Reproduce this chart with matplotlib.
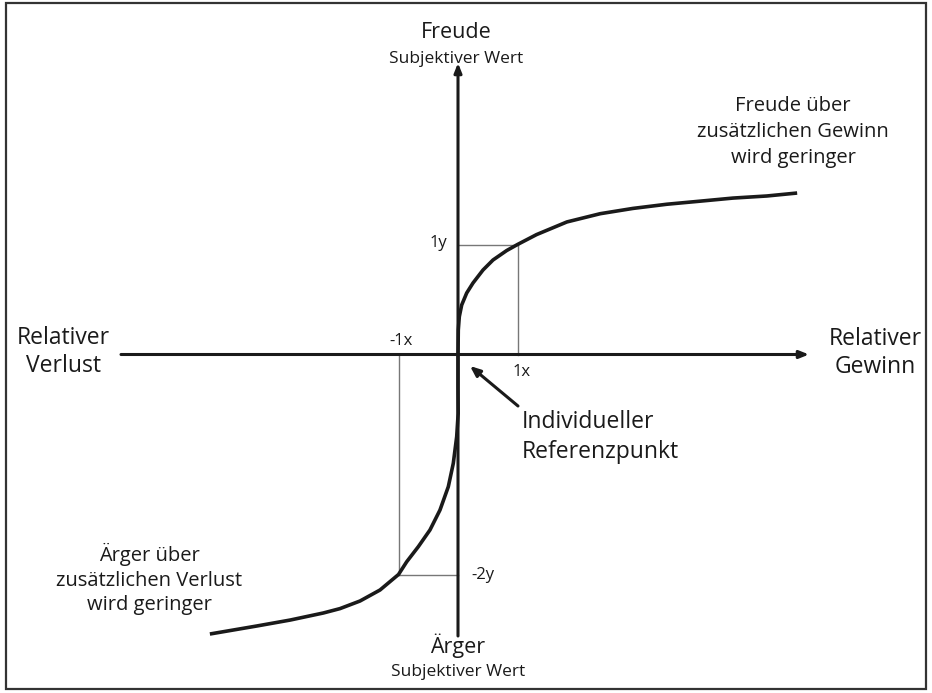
import matplotlib.pyplot as plt
from matplotlib.patches import Rectangle

# value function points (x in "x" units, y in "y" units)
gain_x = [0.0, 0.005, 0.022, 0.062, 0.146, 0.252, 0.42, 0.588, 0.818, 1.0,
          1.32, 1.83, 2.39, 2.94, 3.51, 4.07, 4.62, 5.19, 5.70]
gain_y = [0.0, 0.223, 0.344, 0.45, 0.559, 0.65, 0.768, 0.859, 0.945, 1.0,
          1.09, 1.205, 1.28, 1.328, 1.366, 1.394, 1.422, 1.441, 1.468]
loss_x = [0.0, 0.0, 0.003, -0.022, -0.079, -0.163, -0.303, -0.471, -0.667, -0.862, -1.0,
          -1.311, -1.647, -1.983, -2.264, -2.82, -3.38, -4.17]
loss_y = [0.0, -0.3, -0.535, -0.747, -0.989, -1.202, -1.414, -1.595, -1.747, -1.884, -2.0,
          -2.141, -2.241, -2.31, -2.35, -2.414, -2.468, -2.541]

ref_x = [1, -1]
ref_y = [1, -2]
ref_xlabels = ['1x', '-1x']
ref_ylabels = ['1y', '-2y']

# picture geometry
W, H = 932, 693
X0, Y0 = 458, 354.5
SX, SY = 59.5, 110.0


def px(x, y):
    # pixel position -> data units
    return (x - X0) / SX, (Y0 - y) / SY


plt.rcParams['font.family'] = ['Open Sans', 'DejaVu Sans']
ink = '#1a1a1a'

fig = plt.figure(figsize=(W / 100, H / 100), dpi=100)
ax = fig.add_axes([0, 0, 1, 1])
ax.set_xlim(px(0, 0)[0], px(W, 0)[0])
ax.set_ylim(px(0, H)[1], px(0, 0)[1])
ax.axis('off')

# frame
fig.patches.append(Rectangle((6 / W, 4 / H), 920 / W, 686 / H, transform=fig.transFigure,
                             fill=False, edgecolor='#333333', lw=1.6))

# axes with arrows
head = '-|>,head_length=0.55,head_width=0.22'
ax.annotate('', xy=(px(809, 0)[0], 0), xytext=(px(121, 0)[0], 0),
            arrowprops=dict(arrowstyle=head, lw=2.2, color=ink, shrinkA=0, shrinkB=0))
ax.annotate('', xy=(0, px(0, 63)[1]), xytext=(0, px(0, 636)[1]),
            arrowprops=dict(arrowstyle=head, lw=2.2, color=ink, shrinkA=0, shrinkB=0))

# guide lines to reference points
for rx, ry in zip(ref_x, ref_y):
    ax.plot([rx, rx], [0, ry], color='#777777', lw=1.0)
    ax.plot([0, rx], [ry, ry], color='#777777', lw=1.0)

# value function
ax.plot(gain_x, gain_y, color=ink, lw=2.6, solid_capstyle='butt', solid_joinstyle='round')
ax.plot(loss_x, loss_y, color=ink, lw=2.6, solid_capstyle='butt', solid_joinstyle='round')

# reference labels
tick_fs = 12
ax.text(*px(522, 372), ref_xlabels[0], fontsize=tick_fs, color=ink, ha='center', va='center')
ax.text(*px(401, 341), ref_xlabels[1], fontsize=tick_fs, color=ink, ha='center', va='center')
ax.text(*px(438, 243), ref_ylabels[0], fontsize=tick_fs, color=ink, ha='center', va='center')
ax.text(*px(483, 575), ref_ylabels[1], fontsize=tick_fs, color=ink, ha='center', va='center')

# axis titles
ax.text(*px(456, 32), 'Freude', fontsize=15.5, color=ink, ha='center', va='center')
ax.text(*px(456, 59), 'Subjektiver Wert', fontsize=12.5, color=ink, ha='center', va='center')
ax.text(*px(458, 646), 'Ärger', fontsize=15.5, color=ink, ha='center', va='center')
ax.text(*px(458, 672), 'Subjektiver Wert', fontsize=12.5, color=ink, ha='center', va='center')
ax.text(*px(63, 352), 'Relativer\nVerlust', fontsize=16.5, color=ink, ha='center', va='center',
        linespacing=1.27)
ax.text(*px(875, 353), 'Relativer\nGewinn', fontsize=16.5, color=ink, ha='center', va='center',
        linespacing=1.27)

# notes
ax.text(*px(793, 132), 'Freude über\nzusätzlichen Gewinn\nwird geringer', fontsize=14.5, color=ink,
        ha='center', va='center', linespacing=1.38)
ax.text(*px(149, 579), 'Ärger über\nzusätzlichen Verlust\nwird geringer', fontsize=14.5, color=ink,
        ha='center', va='center', linespacing=1.3)
ax.text(*px(522, 437), 'Individueller\nReferenzpunkt', fontsize=16.5, color=ink,
        ha='left', va='center', linespacing=1.3)
ax.annotate('', xy=px(470, 366), xytext=px(518, 406),
            arrowprops=dict(arrowstyle='-|>,head_length=0.6,head_width=0.25', lw=2.2, color=ink,
                            shrinkA=0, shrinkB=0))

fig.savefig('out.png', dpi=100, facecolor='white')
